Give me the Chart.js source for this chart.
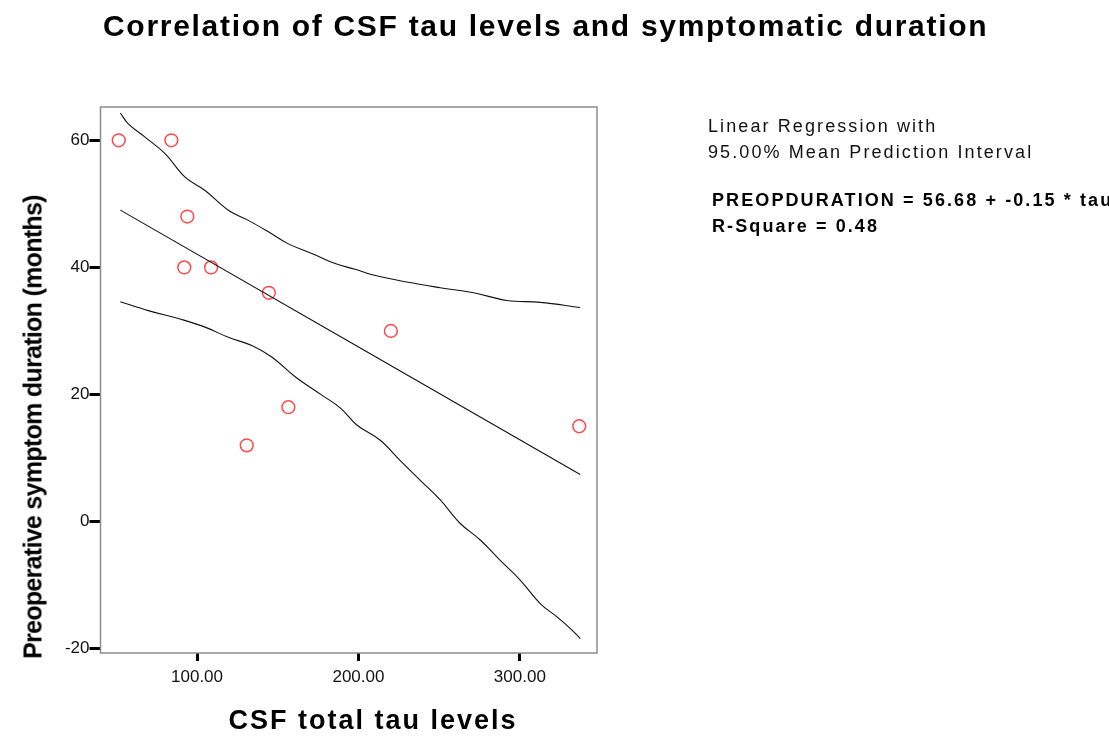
<!DOCTYPE html>
<html>
<head>
<meta charset="utf-8">
<script src="https://cdn.jsdelivr.net/npm/chart.js@4"></script>
<style>
  html, body { margin: 0; padding: 0; background: #fff; overflow: hidden; }
  #wrap { position: relative; width: 1109px; height: 736px; overflow: hidden; font-family: "Liberation Sans", Arial, sans-serif; color: #000; }
  #chart { position: absolute; left: 0; top: 0; }
  .txt { position: absolute; white-space: nowrap; line-height: 1; }
  #title { left: 103px; top: 11px; font-size: 30px; font-weight: bold; letter-spacing: 1.7px; }
  #ytitle { left: 33px; top: 427px; font-size: 25px; font-weight: bold; letter-spacing: -0.7px; transform: translate(-50%, -50%) rotate(-90deg); }
  #xtitle { left: 373px; top: 720px; font-size: 27px; font-weight: bold; letter-spacing: 2px; transform: translate(-50%, -50%); }
  .note { left: 708px; font-size: 18px; color: #111; letter-spacing: 2.1px; }
  .note.b { left: 712px; font-weight: bold; color: #000; letter-spacing: 2.1px; }
</style>
</head>
<body>
<div id="wrap">
  <canvas id="chart" width="1109" height="736"></canvas>
  <div id="title" class="txt">Correlation of CSF tau levels and symptomatic duration</div>
  <div id="ytitle" class="txt">Preoperative symptom duration (months)</div>
  <div id="xtitle" class="txt">CSF total tau levels</div>
  <div class="txt note" style="top:117px">Linear Regression with</div>
  <div class="txt note" style="top:143px">95.00% Mean Prediction Interval</div>
  <div id="eq" class="txt note b" style="top:191px"></div>
  <div id="rsq" class="txt note b" style="top:217px"></div>
</div>
<script>
// Observed cases: CSF total tau vs. preoperative symptom duration (months)
const tauLevels = [51.5, 84.1, 94.0, 92.1, 108.7, 144.5, 156.6, 130.8, 220.1, 336.8];
const durationMonths = [60, 60, 48, 40, 40, 36, 18, 12, 30, 15];

// Fitted regression coefficients and fit statistic
const fitIntercept = 56.68;
const fitSlope = -0.146;
const rSquare = 0.48;

// 95% mean prediction interval, upper and lower bounds
const upperX = [52.5, 57.4, 67.8, 80.2, 92.6, 105.0, 119.4, 131.8, 144.2, 156.6, 171.1, 185.6, 198.0, 209.3, 230.0, 250.7, 271.3, 292.0, 312.6, 337.4];
const upperY = [64.3, 62.6, 60.5, 57.9, 54.2, 52.1, 49.0, 47.4, 45.6, 43.7, 42.2, 40.6, 39.7, 38.8, 37.7, 36.8, 36.0, 34.8, 34.5, 33.7];
const lowerX = [52.5, 69.8, 90.5, 105.0, 119.4, 133.9, 146.3, 160.8, 177.3, 188.7, 199.0, 213.5, 225.9, 238.3, 250.7, 263.1, 275.5, 287.8, 300.2, 312.6, 323.0, 331.2, 337.4];
const lowerY = [34.6, 33.2, 31.8, 30.6, 29.0, 27.7, 25.9, 22.8, 19.9, 17.9, 15.2, 12.8, 9.6, 6.5, 3.4, -0.3, -2.9, -6.1, -9.2, -12.9, -15.0, -16.8, -18.4];

// Axis ticks
const xTicks = [100, 200, 300];
const yTicks = [-20, 0, 20, 40, 60];

document.getElementById('eq').textContent =
  'PREOPDURATION = ' + fitIntercept.toFixed(2) + ' + ' + fitSlope.toFixed(2) + ' * tau';
document.getElementById('rsq').textContent = 'R-Square = ' + rSquare.toFixed(2);

const pts = (xs, ys) => xs.map((x, i) => ({ x: x, y: ys[i] }));
const fitLine = [upperX[0], upperX[upperX.length - 1]].map(x => ({ x: x, y: fitIntercept + fitSlope * x }));

// Grey frame round the plotting area
const frame = {
  id: 'frame',
  afterDraw(chart) {
    const a = chart.chartArea, ctx = chart.ctx;
    ctx.save();
    ctx.strokeStyle = '#8c8c8c';
    ctx.lineWidth = 1.5;
    ctx.strokeRect(a.left, a.top, a.right - a.left, a.bottom - a.top);
    ctx.restore();
  }
};

const lineStyle = { type: 'line', borderColor: '#111', borderWidth: 1.1, pointRadius: 0, fill: false, tension: 0.4 };

new Chart(document.getElementById('chart'), {
  type: 'scatter',
  data: {
    datasets: [
      Object.assign({ data: pts(upperX, upperY) }, lineStyle),
      Object.assign({ data: fitLine }, lineStyle),
      Object.assign({ data: pts(lowerX, lowerY) }, lineStyle),
      {
        type: 'scatter',
        data: pts(tauLevels, durationMonths),
        pointStyle: 'circle',
        pointRadius: 6.4,
        pointBorderWidth: 1.5,
        borderColor: '#ff4a4a',
        backgroundColor: 'rgba(0,0,0,0)',
        pointHoverRadius: 6.4
      }
    ]
  },
  options: {
    responsive: false,
    animation: false,
    events: [],
    layout: { padding: { left: 0, top: 107, right: 512, bottom: 0 } },
    plugins: { legend: { display: false }, tooltip: { enabled: false }, title: { display: false } },
    scales: {
      x: {
        type: 'linear',
        min: 40.2,
        max: 347.8,
        afterBuildTicks(s) { s.ticks = xTicks.map(v => ({ value: v })); },
        afterFit(s) { s.height = 83; },
        border: { display: false },
        grid: { display: true, drawOnChartArea: false, drawTicks: true, tickLength: 8, tickWidth: 3, tickColor: '#000' },
        ticks: {
          padding: 6,
          color: '#111',
          font: { family: 'Liberation Sans', size: 17 },
          callback: v => Number(v).toFixed(2)
        }
      },
      y: {
        type: 'linear',
        min: -20.68,
        max: 65.24,
        afterBuildTicks(s) { s.ticks = yTicks.map(v => ({ value: v })); },
        afterFit(s) { s.width = 100.5; },
        border: { display: false },
        grid: { display: true, drawOnChartArea: false, drawTicks: true, tickLength: 11, tickWidth: 3, tickColor: '#000' },
        ticks: {
          padding: 0,
          color: '#111',
          font: { family: 'Liberation Sans', size: 17 },
          callback: v => String(v)
        }
      }
    }
  },
  plugins: [frame]
});
</script>
</body>
</html>
